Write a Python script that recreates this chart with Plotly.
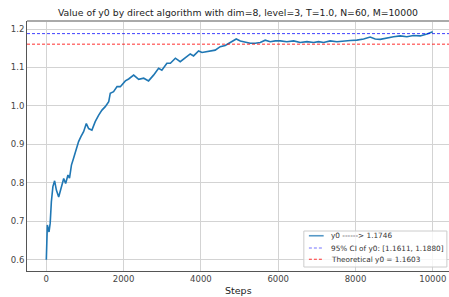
import plotly.graph_objects as go

steps = [0, 26, 70, 100, 130, 170, 215, 260, 320, 390, 450, 500, 560, 600, 650, 705,
         775, 835, 895, 965, 1035, 1095, 1180, 1265, 1355, 1440, 1525, 1615, 1655, 1740,
         1830, 1915, 2045, 2130, 2260, 2390, 2520, 2645, 2775, 2905, 2990, 3120, 3210,
         3340, 3465, 3595, 3725, 3810, 3940, 4030, 4115, 4245, 4370, 4500, 4630, 4760,
         4915, 5020, 5150, 5275, 5405, 5535, 5665, 5795, 5925, 6055, 6225, 6400, 6570,
         6745, 6915, 7045, 7175, 7345, 7520, 7690, 7865, 8035, 8210, 8380, 8510, 8640,
         8815, 8985, 9160, 9330, 9500, 9675, 9850, 10000]
y0_values = [0.600, 0.690, 0.672, 0.695, 0.750, 0.790, 0.805, 0.781, 0.763, 0.790, 0.811,
             0.798, 0.820, 0.812, 0.846, 0.864, 0.889, 0.907, 0.920, 0.933, 0.954, 0.941,
             0.937, 0.959, 0.976, 0.989, 0.998, 1.011, 1.033, 1.037, 1.050, 1.050, 1.065,
             1.070, 1.080, 1.069, 1.072, 1.065, 1.080, 1.098, 1.093, 1.111, 1.111, 1.124,
             1.115, 1.124, 1.135, 1.130, 1.143, 1.139, 1.141, 1.143, 1.145, 1.154, 1.157,
             1.165, 1.174, 1.169, 1.165, 1.163, 1.163, 1.165, 1.171, 1.167, 1.169, 1.169,
             1.167, 1.169, 1.165, 1.167, 1.165, 1.167, 1.165, 1.169, 1.167, 1.169, 1.170,
             1.171, 1.174, 1.179, 1.174, 1.173, 1.177, 1.180, 1.182, 1.180, 1.183, 1.182,
             1.187, 1.193]
ci_upper = 1.1880
theoretical = 1.1603
x_ticks = [0, 2000, 4000, 6000, 8000, 10000]
y_ticks = [0.6, 0.7, 0.8, 0.9, 1.0, 1.1, 1.2]
legend_labels = ["y0 ------> 1.1746", "95% CI of y0: [1.1611, 1.1880]", "Theoretical y0 = 1.1603"]

MAIN = dict(color="#1f77b4", width=1.6)
CI = dict(color="rgba(0,0,255,0.75)", width=1, dash="3px,2px")
TH = dict(color="rgba(255,0,0,0.55)", width=1.3, dash="3px,2px")

fig = go.Figure()
fig.add_trace(go.Scatter(x=steps, y=y0_values, mode="lines", line=MAIN,
                         name=legend_labels[0], showlegend=False))
fig.add_trace(go.Scatter(x=[-500, 10500], y=[ci_upper, ci_upper], mode="lines", line=CI,
                         name=legend_labels[1], showlegend=False))
fig.add_trace(go.Scatter(x=[-500, 10500], y=[theoretical, theoretical], mode="lines", line=TH,
                         name=legend_labels[2], showlegend=False))

# manual legend (lower right) in paper coordinates
leg_rows = [0.141, 0.092, 0.047]
leg_styles = [dict(color="rgba(31,119,180,0.75)", width=1.6),
              dict(color="rgba(0,0,255,0.55)", width=1, dash="3px,2px"),
              dict(color="rgba(255,0,0,0.8)", width=1, dash="3px,2px")]
shapes = [dict(type="line", xref="paper", yref="paper", x0=0, x1=1, y0=1, y1=1,
               line=dict(color="#aaa", width=2)),
          dict(type="rect", xref="paper", yref="paper", x0=0.656, x1=0.995, y0=0.016, y1=0.16,
               fillcolor="rgba(255,255,255,0.8)", line=dict(color="#cccccc", width=1),
               layer="above")]
annotations = [dict(text="Steps", xref="paper", yref="paper", x=0.5, y=-0.076,
                    xanchor="center", yanchor="middle", showarrow=False,
                    font=dict(size=9.5, color="#222"))]
for yr, st, lab in zip(leg_rows, leg_styles, legend_labels):
    shapes.append(dict(type="line", xref="paper", yref="paper", x0=0.668, x1=0.703,
                       y0=yr, y1=yr, line=st, layer="above"))
    annotations.append(dict(text=lab, xref="paper", yref="paper", x=0.716, y=yr,
                            xanchor="left", yanchor="middle", showarrow=False,
                            font=dict(size=7.3, color="#333")))

fig.update_layout(
    width=449, height=297,
    margin=dict(l=27, r=0, t=21, b=26, autoexpand=False),
    paper_bgcolor="white", plot_bgcolor="white",
    font=dict(family="DejaVu Sans", size=9, color="#444"),
    title=dict(text="Value of y0 by direct algorithm with dim=8, level=3, T=1.0, N=60, M=10000",
               x=0.5, xref="paper", xanchor="center", y=0.956, yref="container",
               yanchor="middle", automargin=False,
               font=dict(size=9.3, color="#222")),
    xaxis=dict(range=[-500, 10420], tickvals=x_ticks, ticktext=[str(v) for v in x_ticks],
               showgrid=True, gridcolor="#d3d3d3", gridwidth=1, zeroline=False,
               showline=True, linecolor="#555", linewidth=1, automargin=False,
               ticks="", tickfont=dict(size=8.5)),
    yaxis=dict(range=[0.5705, 1.2208], tickvals=y_ticks, ticktext=[f"{v:.1f}" for v in y_ticks],
               showgrid=True, gridcolor="#d3d3d3", gridwidth=1, zeroline=False,
               showline=True, linecolor="#555", linewidth=1, ticks="", automargin=False,
               tickfont=dict(size=8.5)),
    showlegend=False,
    annotations=annotations,
    shapes=shapes,
)

fig.write_html("out.html", config={"displayModeBar": False},
               post_script="document.body.style.margin='0';document.body.style.overflow='hidden';")
